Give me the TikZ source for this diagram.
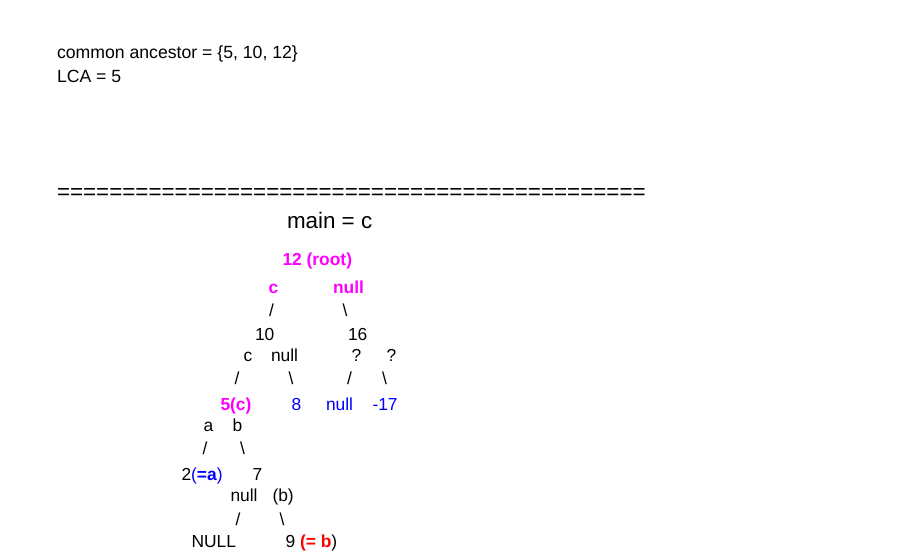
\documentclass[tikz,border=0pt]{standalone}
\usepackage{fontspec}
\setmainfont{Liberation Sans}
\definecolor{mag}{HTML}{FF00FF}
\definecolor{blu}{HTML}{0000FF}
\definecolor{rd}{HTML}{FF0000}
\begin{document}
\begin{tikzpicture}[x=1pt,y=-1pt,
  txt/.style={anchor=base west,inner sep=0pt,outer sep=0pt,font=\fontsize{17.4}{20}\selectfont},
  head/.style={anchor=base west,inner sep=0pt,outer sep=0pt,font=\fontsize{17.65}{20}\selectfont},
  big/.style={anchor=base west,inner sep=0pt,outer sep=0pt,font=\fontsize{22.4}{26}\selectfont},
  magb/.style={txt,text=mag,font=\fontsize{17.4}{20}\selectfont\bfseries},
  bl/.style={txt,text=blu}]
\path[use as bounding box,fill=white] (0,0) rectangle (906,559);
% header
\node[head] (t1) at (57,59) {common ancestor = \{5, 10, 12\}};
\node[head] (t2) at (57,83) {LCA = 5};
\node[big] (sep) at (57,200) {=============================================};
\node[big] (main) at (287,229) {main = c};
% tree
\node[magb] (root) at (282.5,265.5) {12 (root)};
\node[magb] (rc) at (268.5,293.3) {c};
\node[magb] (rn) at (333,293.3) {null};
\node[txt] (s1) at (269,316.5) {/};
\node[txt] (s2) at (342.5,316.5) {\textbackslash};
\node[txt] (n10) at (255,340.7) {10};
\node[txt] (n16) at (348,340.7) {16};
\node[txt] (c10) at (243.5,361.7) {c};
\node[txt] (nu10) at (271,361.7) {null};
\node[txt] (q1) at (351.5,361.7) {?};
\node[txt] (q2) at (386.5,361.7) {?};
\node[txt] (s3) at (234.5,384.5) {/};
\node[txt] (s4) at (288.5,384.5) {\textbackslash};
\node[txt] (s5) at (347,384.5) {/};
\node[txt] (s6) at (382,384.5) {\textbackslash};
\node[magb] (n5) at (220.5,410) {5(c)};
\node[bl] (n8) at (291.5,410) {8};
\node[bl] (nnull) at (326,410) {null};
\node[bl] (n17) at (372.5,410) {-17};
\node[txt] (la) at (203.5,431.7) {a};
\node[txt] (lb) at (232.5,431.7) {b};
\node[txt] (s7) at (202.5,454) {/};
\node[txt] (s8) at (240,454) {\textbackslash};
\node[txt] (n2) at (181.5,480) {2{\color{blu}(\textbf{=a})}};
\node[txt] (n7) at (252.5,480) {7};
\node[txt] (nu7) at (230.5,501.7) {null};
\node[txt] (b7) at (272.5,501.7) {(b)};
\node[txt] (s9) at (235.5,525) {/};
\node[txt] (s10) at (279.5,525) {\textbackslash};
\node[txt] (nNULL) at (191.5,547.7) {NULL};
\node[txt] (n9) at (285.5,547.7) {9 {\color{rd}\bfseries(= b})};
\end{tikzpicture}
\end{document}
